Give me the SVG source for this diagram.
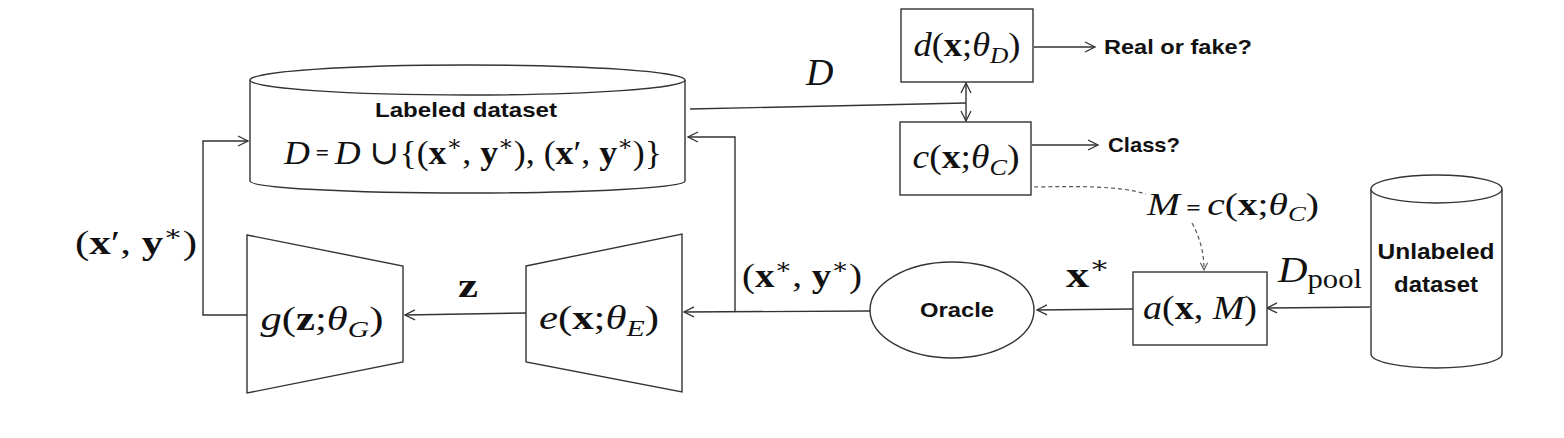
<svg xmlns="http://www.w3.org/2000/svg" width="1564" height="438" viewBox="0 0 1564 438">
<style>
.ln{fill:none;stroke:#333;stroke-width:1.4}
.dash{fill:none;stroke:#555;stroke-width:1.2;stroke-dasharray:4 3}
.shape{fill:#fff;stroke:#333;stroke-width:1.4}
.m{font-family:"Liberation Serif","DejaVu Serif",serif;fill:#111}
.it{font-style:italic}
.b{font-weight:bold}
.lbl{font-family:"Liberation Sans","Open Sans",sans-serif;font-weight:bold;fill:#111}
</style>
<defs>
<marker id="ah" viewBox="0 0 12 12" refX="11" refY="6" markerWidth="12" markerHeight="12" markerUnits="userSpaceOnUse" orient="auto-start-reverse">
<path d="M1,1 L11,6 L1,11" fill="none" stroke="#333" stroke-width="1.3"/>
</marker>
<marker id="ahd" viewBox="0 0 10 10" refX="9" refY="5" markerWidth="9" markerHeight="9" markerUnits="userSpaceOnUse" orient="auto">
<path d="M1,1 L9,5 L1,9" fill="none" stroke="#555" stroke-width="1.2"/>
</marker>
</defs>

<g id="connectors">
<path class="ln" d="M690,109 L966,103"/>
<path class="ln" d="M966,83 L966,121" marker-start="url(#ah)" marker-end="url(#ah)"/>
<path class="ln" d="M1034,47 L1095,47" marker-end="url(#ah)"/>
<path class="ln" d="M1032,145 L1098,145" marker-end="url(#ah)"/>
<path class="dash" d="M1034,187 C1080,186 1120,186 1146,194"/>
<path class="dash" d="M1192,223 C1200,238 1204,252 1204,270" marker-end="url(#ahd)"/>
<path class="ln" d="M1370,307 L1267,308" marker-end="url(#ah)"/>
<path class="ln" d="M1133,309 L1037,310" marker-end="url(#ah)"/>
<path class="ln" d="M870,311 L684,312" marker-end="url(#ah)"/>
<path class="ln" d="M735,311 L735,137 L688,137" marker-end="url(#ah)"/>
<path class="ln" d="M526,313 L405,315" marker-end="url(#ah)"/>
<path class="ln" d="M247,315 L203,315 L203,141 L248,141" marker-end="url(#ah)"/>
</g>

<g id="labeled-dataset">
<path class="shape" d="M250,80 L250,181 A217.5,12 0 0 0 685,181 L685,80"/>
<ellipse class="shape" cx="467.5" cy="80" rx="217.5" ry="15"/>
<text class="lbl" x="466" y="117" font-size="21" text-anchor="middle" textLength="182" lengthAdjust="spacingAndGlyphs">Labeled dataset</text>
<text class="m" x="284" y="164" font-size="34" textLength="378" lengthAdjust="spacingAndGlyphs"><tspan class="it">D</tspan><tspan font-size="22" class="b" dy="-4"> = </tspan><tspan class="it" dy="4">D</tspan> ∪{(<tspan class="b">x</tspan><tspan font-size="22" dy="-13">∗</tspan><tspan dy="13">, </tspan><tspan class="b">y</tspan><tspan font-size="22" dy="-13">∗</tspan><tspan dy="13">), (</tspan><tspan class="b">x</tspan><tspan>′, </tspan><tspan class="b">y</tspan><tspan font-size="22" dy="-13">∗</tspan><tspan dy="13">)}</tspan></text>
</g>

<g id="d-label">
<text class="m it" x="806" y="85" font-size="38">D</text>
</g>

<g id="discriminator">
<rect class="shape" x="901" y="9" width="132" height="73"/>
<text class="m" x="967" y="56" font-size="33" text-anchor="middle" textLength="107" lengthAdjust="spacingAndGlyphs"><tspan class="it">d</tspan>(<tspan class="b">x</tspan>;<tspan class="it">θ</tspan><tspan class="it" font-size="23" dy="7">D</tspan><tspan dy="-7">)</tspan></text>
<text class="lbl" x="1104" y="54" font-size="21" textLength="148" lengthAdjust="spacingAndGlyphs">Real or fake?</text>
</g>

<g id="classifier">
<rect class="shape" x="900" y="122" width="131" height="73"/>
<text class="m" x="966" y="168" font-size="33" text-anchor="middle" textLength="107" lengthAdjust="spacingAndGlyphs"><tspan class="it">c</tspan>(<tspan class="b">x</tspan>;<tspan class="it">θ</tspan><tspan class="it" font-size="23" dy="7">C</tspan><tspan dy="-7">)</tspan></text>
<text class="lbl" x="1108" y="152" font-size="21" textLength="72" lengthAdjust="spacingAndGlyphs">Class?</text>
</g>

<g id="model-label">
<text class="m" x="1147" y="215" font-size="31" textLength="172" lengthAdjust="spacingAndGlyphs"><tspan class="it">M</tspan><tspan font-size="20" class="b"> = </tspan><tspan class="it">c</tspan>(<tspan class="b">x</tspan>;<tspan class="it">θ</tspan><tspan class="it" font-size="21" dy="6">C</tspan><tspan dy="-6">)</tspan></text>
</g>

<g id="acquisition">
<rect class="shape" x="1133" y="272" width="134" height="73"/>
<text class="m" x="1200" y="319" font-size="33" text-anchor="middle" textLength="114" lengthAdjust="spacingAndGlyphs"><tspan class="it">a</tspan>(<tspan class="b">x</tspan>, <tspan class="it">M</tspan>)</text>
</g>

<g id="unlabeled-dataset">
<path class="shape" d="M1371,189 L1371,354 A65.5,14 0 0 0 1502,354 L1502,189"/>
<ellipse class="shape" cx="1436.5" cy="189" rx="65.5" ry="14"/>
<text class="lbl" x="1436" y="259" font-size="22" text-anchor="middle" textLength="117" lengthAdjust="spacingAndGlyphs">Unlabeled</text>
<text class="lbl" x="1436" y="292" font-size="22" text-anchor="middle" textLength="84" lengthAdjust="spacingAndGlyphs">dataset</text>
</g>

<g id="dpool-label">
<text class="m" x="1278" y="282" font-size="36" textLength="84" lengthAdjust="spacingAndGlyphs"><tspan class="it">D</tspan><tspan font-size="27" dy="6">pool</tspan></text>
</g>

<g id="xstar-label">
<text class="m" x="1066" y="287" font-size="36" textLength="44" lengthAdjust="spacingAndGlyphs"><tspan class="b">x</tspan><tspan font-size="24" dy="-14">∗</tspan></text>
</g>

<g id="oracle">
<ellipse class="shape" cx="952" cy="310" rx="82" ry="48"/>
<text class="lbl" x="957" y="317" font-size="21" text-anchor="middle" textLength="74" lengthAdjust="spacingAndGlyphs">Oracle</text>
</g>

<g id="xy-label">
<text class="m" x="742" y="287" font-size="33" textLength="120" lengthAdjust="spacingAndGlyphs">(<tspan class="b">x</tspan><tspan font-size="22" dy="-13">∗</tspan><tspan dy="13">, </tspan><tspan class="b">y</tspan><tspan font-size="22" dy="-13">∗</tspan><tspan dy="13">)</tspan></text>
</g>

<g id="encoder">
<path class="shape" d="M526,266 L682,234 L682,392 L526,362 Z"/>
<text class="m" x="599" y="329" font-size="33" text-anchor="middle" textLength="120" lengthAdjust="spacingAndGlyphs"><tspan class="it">e</tspan>(<tspan class="b">x</tspan>;<tspan class="it">θ</tspan><tspan class="it" font-size="23" dy="7">E</tspan><tspan dy="-7">)</tspan></text>
</g>

<g id="z-label">
<text class="m b" x="458" y="297" font-size="34" textLength="20" lengthAdjust="spacingAndGlyphs">z</text>
</g>

<g id="generator">
<path class="shape" d="M247,235 L403,266 L403,362 L247,393 Z"/>
<text class="m" x="322" y="330" font-size="33" text-anchor="middle" textLength="123" lengthAdjust="spacingAndGlyphs"><tspan class="it">g</tspan>(<tspan class="b">z</tspan>;<tspan class="it">θ</tspan><tspan class="it" font-size="23" dy="7">G</tspan><tspan dy="-7">)</tspan></text>
</g>

<g id="xprime-label">
<text class="m" x="75" y="254" font-size="33" textLength="122" lengthAdjust="spacingAndGlyphs">(<tspan class="b">x</tspan>′, <tspan class="b">y</tspan><tspan font-size="22" dy="-13">∗</tspan><tspan dy="13">)</tspan></text>
</g>
</svg>
